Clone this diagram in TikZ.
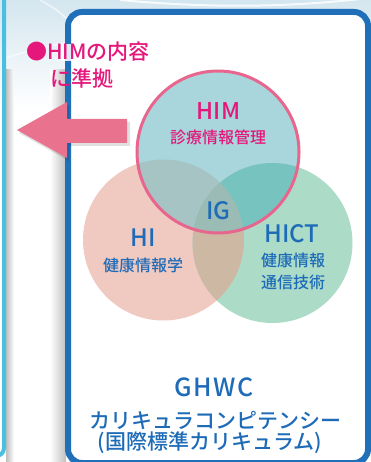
\documentclass[tikz,border=0pt]{standalone}
\usepackage{fontspec}
\setmainfont{Noto Sans CJK JP}[BoldFont={Noto Sans CJK JP Medium}]
\definecolor{bgblue}{HTML}{D4E6EF}
\definecolor{panelcyan}{HTML}{4BBFE0}
\definecolor{boxblue}{HTML}{1F6FB9}
\definecolor{arrowpink}{HTML}{E9728F}
\definecolor{notepink}{HTML}{E5177B}
\definecolor{ringpink}{HTML}{E8668E}
\definecolor{textblue}{HTML}{1E6BB8}
\definecolor{himfill}{HTML}{A9D6DC}
\definecolor{hifill}{HTML}{F0C9C0}
\definecolor{hictfill}{HTML}{ACDCC8}
\definecolor{hihictfill}{HTML}{CDB8A4}
\definecolor{himhifill}{HTML}{A6C4C4}
\definecolor{himhictfill}{HTML}{77C3C0}
\definecolor{igfill}{HTML}{9BBCB5}

\begin{document}
\begin{tikzpicture}[x=1pt,y=-1pt,
	bigtext/.style={text=textblue,inner sep=0pt,font=\bfseries\fontsize{24}{28}\selectfont},
	subtext/.style={text=textblue,inner sep=0pt,align=center,font=\bfseries\fontsize{16}{22}\selectfont},
	notetext/.style={text=notepink,inner sep=0pt,anchor=west,font=\bfseries\fontsize{21}{24}\selectfont}]
	\useasboundingbox (0,0) rectangle (371,462);
	\clip (0,0) rectangle (371,462);

	%BACKGROUND
	\fill[white] (0,0) rectangle (371,462);
	\shade[top color=bgblue,bottom color=white] (0,0) rectangle (371,110);
	\draw[white,line width=2,opacity=0.8] (120,0) .. controls (250,12) and (330,2) .. (371,-2);
	\draw[white,line width=1.5,opacity=0.6] (40,0) .. controls (55,8) and (62,14) .. (68,20);
	\draw[white,line width=1.5,opacity=0.6] (6,58) .. controls (30,50) and (50,46) .. (68,42);
	\shade[left color=black!25,right color=white] (6,70) rectangle (14,462);
	\shade[left color=white,right color=black!25] (50,70) rectangle (66,462);

	%LEFT PANEL
	\draw[panelcyan,line width=4] (4,-2) -- (4,448) arc[start angle=0,end angle=-90,radius=8pt];

	%MAIN BOX
	\filldraw[draw=boxblue,fill=white,line width=6,rounded corners=14pt] (68,12) rectangle (368,463);
	\fill[white,opacity=0.85] (61,44) rectangle (75,61);	%halo behind the note

	%CIRCLES
	\coordinate (cHIM) at (218,152);
	\coordinate (cHI) at (163.5,240);
	\coordinate (cHICT) at (272.5,243);
	\fill[hifill] (cHI) circle[radius=80.5pt];
	\fill[hictfill] (cHICT) circle[radius=80pt];
	\begin{scope}
		\clip (cHI) circle[radius=80.5pt];
		\fill[hihictfill] (cHICT) circle[radius=80pt];
	\end{scope}
	\fill[himfill] (cHIM) circle[radius=81pt];
	\begin{scope}
		\clip (cHI) circle[radius=80.5pt];
		\fill[himhifill] (cHIM) circle[radius=81pt];
	\end{scope}
	\begin{scope}
		\clip (cHICT) circle[radius=80pt];
		\fill[himhictfill] (cHIM) circle[radius=81pt];
	\end{scope}
	\begin{scope}
		\clip (cHI) circle[radius=80.5pt];
		\clip (cHICT) circle[radius=80pt];
		\fill[igfill] (cHIM) circle[radius=81pt];
	\end{scope}
	\draw[ringpink,line width=3] (cHIM) circle[radius=81pt];

	%ARROW
	\fill[black,opacity=0.12] (19,133) -- (69,105) -- (69,122) -- (130,122) -- (130,146) -- (69,146) -- (69,161) -- cycle;
	\fill[arrowpink] (17,130) -- (67,102) -- (67,119) -- (127,119) -- (127,143) -- (67,143) -- (67,158) -- cycle;

	%LABELS
	\node[notetext] (note1) at (26,52) {●HIMの内容};
	\node[notetext] (note2) at (50,78) {に準拠};
	\node[bigtext,text=notepink,font=\bfseries\fontsize{23}{26}\selectfont] (him) at (218.5,111) {HIM};
	\node[subtext,text=notepink] (himsub) at (218,137) {診療情報管理};
	\node[bigtext] (ig) at (218.5,211) {IG};
	\node[bigtext] (hi) at (143.5,238) {HI};
	\node[subtext] (hisub) at (143,265) {健康情報学};
	\node[bigtext] (hict) at (292,234) {HICT};
	\node[subtext] (hictsub) at (293,271) {健康情報\\通信技術};
	\node[bigtext,font=\bfseries\fontsize{25}{30}\selectfont] (ghwc) at (214,387) {G\kern1.5pt H\kern1.5pt W\kern1.5pt C};
	\node[bigtext,font=\bfseries\fontsize{21}{24}\selectfont] (ghwcsub) at (215,420) {カリキュラコンピテンシー};
	\node[bigtext,font=\bfseries\fontsize{21}{24}\selectfont] (ghwcintl) at (210,443) {(国際標準カリキュラム)};
\end{tikzpicture}
\end{document}
